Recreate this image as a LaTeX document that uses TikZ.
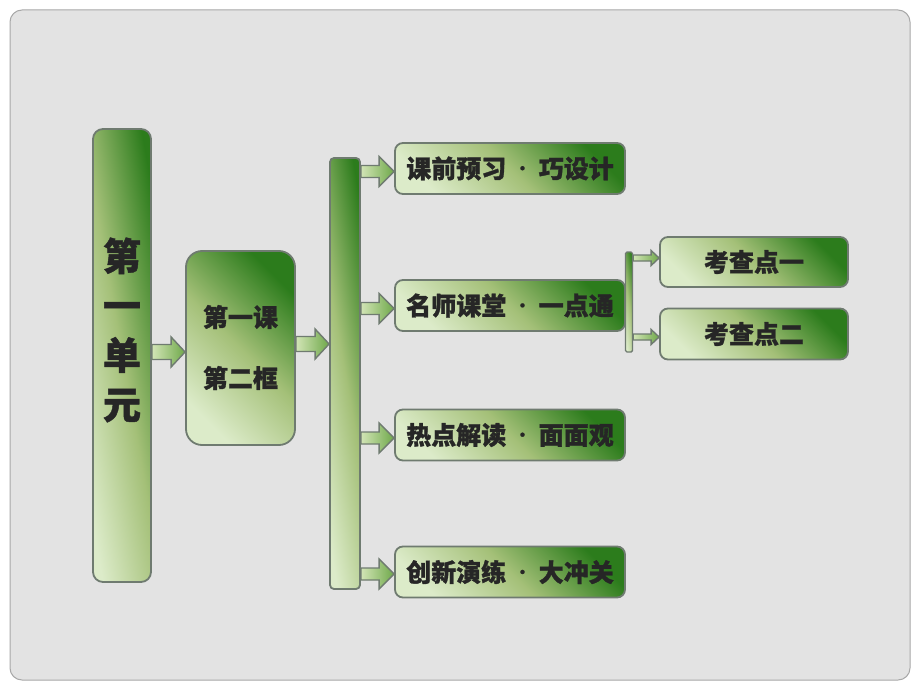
\documentclass[tikz,border=0pt]{standalone}
\usepackage{fontspec}
\usetikzlibrary{calc}
\newfontfamily\cjk{Noto Sans CJK SC}[BoldFont={Noto Sans CJK SC Black}, BoldFeatures={FakeBold=1.2}]
\definecolor{darkg}{HTML}{2C7C1C}
\definecolor{midg}{HTML}{A4C078}
\definecolor{lightg}{HTML}{DCEBC9}
\definecolor{bordc}{HTML}{6F7B70}
\definecolor{bgfill}{HTML}{E3E3E3}
\definecolor{bgline}{HTML}{A8A8A8}
\definecolor{txt}{HTML}{262626}
\definecolor{arrl}{HTML}{D2E5B6}
\definecolor{arrr}{HTML}{6FA84A}
\newcommand\mdot{\makebox[1.3em]{\raisebox{4pt}{\fontsize{15}{15}\selectfont ·}}}
\newcommand\blockarrow[6]{%
  \draw[arrowst] let \p1=(#1), \p2=(#2), \p3=(#3) in
    (\x1,\y3+#4pt) -- (\x2-#6pt,\y3+#4pt) -- (\x2-#6pt,\y3+#5pt) -- (\x2,\y3)
    -- (\x2-#6pt,\y3-#5pt) -- (\x2-#6pt,\y3-#4pt) -- (\x1,\y3-#4pt) -- cycle;}
\begin{document}
\begin{tikzpicture}[x=1pt,y=-1pt,
  greenbox/.style={draw=bordc, line width=1.8pt, rounded corners=8pt,
    left color=lightg, right color=darkg, middle color=midg, shading angle=135,
    inner sep=0pt, text=txt, font=\cjk\bfseries\fontsize{25}{27}\selectfont},
  barbox/.style={greenbox, shading angle=100},
  arrowst/.style={draw=bordc, line width=1.4pt, line join=miter,
    left color=arrl, right color=arrr},
  bigtext/.style={text=txt, font=\cjk\bfseries\fontsize{38}{49.5}\selectfont, align=center, inner sep=0pt},
  midtext/.style={text=txt, font=\cjk\bfseries\fontsize{25}{61}\selectfont, align=center, inner sep=0pt}]
\useasboundingbox (0,0) rectangle (920,690);
\fill[white] (0,0) rectangle (920,690);
\draw[draw=bgline, fill=bgfill, line width=1pt, rounded corners=12pt] (10,10) rectangle (910,680);

% main nodes
\node[barbox, rounded corners=10pt, minimum width=58pt, minimum height=453pt] (unit) at (122,355.5) {};
\node[bigtext] (unittext) at (122,330) {第\\一\\单\\元};
\node[greenbox, rounded corners=16pt, minimum width=109pt, minimum height=194pt] (lesson) at (240.5,348) {};
\node[midtext] (lessontext) at (240.5,347.5) {第一课\\第二框};
\node[barbox, rounded corners=4pt, minimum width=30pt, minimum height=431pt] (bar) at (345,373.5) {};

\node[greenbox, minimum width=230pt, minimum height=51pt] (r1) at (510,168.5) {课前预习\mdot 巧设计};
\node[greenbox, minimum width=230pt, minimum height=51pt] (r2) at (510,305.5) {名师课堂\mdot 一点通};
\node[greenbox, minimum width=230pt, minimum height=51pt] (r3) at (510,435) {热点解读\mdot 面面观};
\node[greenbox, minimum width=230pt, minimum height=51pt] (r4) at (510,572) {创新演练\mdot 大冲关};

\node[barbox, line width=1.4pt, rounded corners=1.5pt, minimum width=7pt, minimum height=100pt] (sbar) at (629,302) {};
\node[greenbox, minimum width=188pt, minimum height=50pt] (k1) at (754,262) {考查点一};
\node[greenbox, minimum width=188pt, minimum height=51pt] (k2) at (754,334) {考查点二};

% block arrows
\blockarrow{unit.east}{lesson.west}{[yshift=-4pt]lesson.west}{7.5}{15}{14}
\blockarrow{lesson.east}{bar.west}{[yshift=4pt]lesson.east}{7.5}{15}{14}
\blockarrow{bar.east}{r1.west}{[yshift=-3pt]r1.west}{6}{15}{15}
\blockarrow{bar.east}{r2.west}{[yshift=-3pt]r2.west}{6}{15}{15}
\blockarrow{bar.east}{r3.west}{[yshift=-3pt]r3.west}{6}{15}{15}
\blockarrow{bar.east}{r4.west}{[yshift=-2pt]r4.west}{6}{15}{15}
\blockarrow{sbar.east}{k1.west}{[yshift=4pt]k1.west}{3}{7.5}{8}
\blockarrow{sbar.east}{k2.west}{[yshift=-3pt]k2.west}{3}{7.5}{8}
\end{tikzpicture}
\end{document}
